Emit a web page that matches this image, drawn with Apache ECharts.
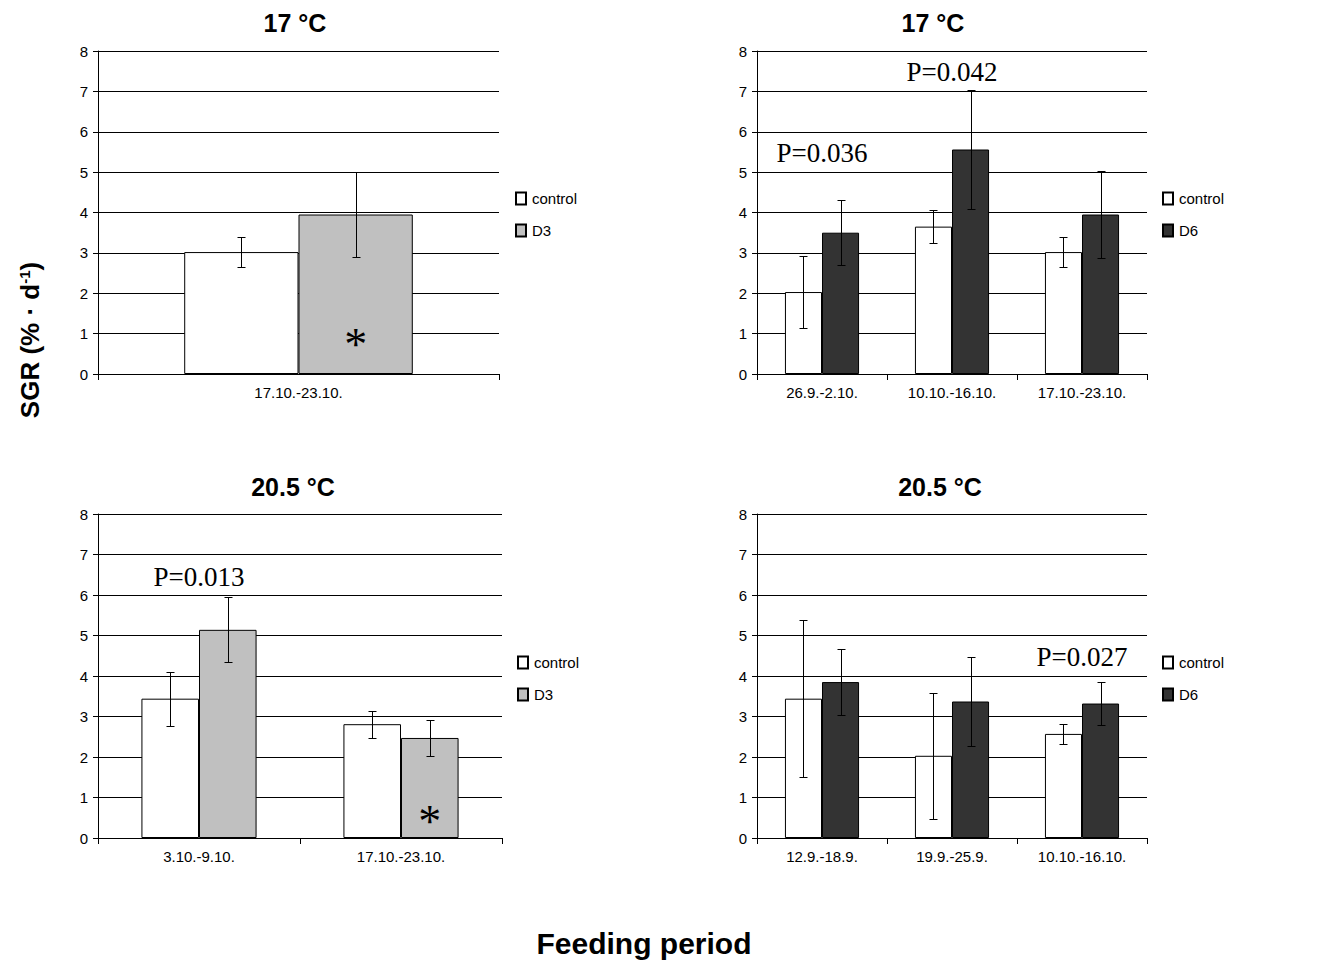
<!DOCTYPE html>
<html>
<head>
<meta charset="utf-8">
<script src="https://cdn.jsdelivr.net/npm/echarts@6/dist/echarts.min.js"></script>
<style>html,body{margin:0;padding:0;background:#fff}#c{width:1342px;height:964px}</style>
</head>
<body>
<div id="c"></div>
<script>
// ---- Data ----
const yTicksMax = 8;
// Panel A: 17 °C, D3
const catsA = ['17.10.-23.10.'];
const ctrlA = [3.02];
const ctrlErrA = [0.37];
const trtA = [3.95];
const trtErrA = [1.06];
// Panel B: 17 °C, D6
const catsB = ['26.9.-2.10.', '10.10.-16.10.', '17.10.-23.10.'];
const ctrlB = [2.03, 3.65, 3.02];
const ctrlErrB = [0.90, 0.40, 0.37];
const trtB = [3.50, 5.56, 3.95];
const trtErrB = [0.81, 1.48, 1.08];
// Panel C: 20.5 °C, D3
const catsC = ['3.10.-9.10.', '17.10.-23.10.'];
const ctrlC = [3.44, 2.81];
const ctrlErrC = [0.67, 0.33];
const trtC = [5.14, 2.47];
const trtErrC = [0.80, 0.44];
// Panel D: 20.5 °C, D6
const catsD = ['12.9.-18.9.', '19.9.-25.9.', '10.10.-16.10.'];
const ctrlD = [3.44, 2.03, 2.57];
const ctrlErrD = [1.94, 1.56, 0.24];
const trtD = [3.85, 3.37, 3.32];
const trtErrD = [0.81, 1.10, 0.53];
// Annotations (category index, value, text, bar slot: -1 centre, 1 treatment bar)
const noteTextA = ['*'];  const noteCatA = [0]; const noteValA = [0.72]; const noteSlotA = [1];
const noteTextB = ['P=0.036', 'P=0.042']; const noteCatB = [0, 1]; const noteValB = [5.48, 7.47]; const noteSlotB = [-1, -1];
const noteTextC = ['P=0.013', '*']; const noteCatC = [0, 1]; const noteValC = [6.45, 0.41]; const noteSlotC = [-1, 1];
const noteTextD = ['P=0.027']; const noteCatD = [2]; const noteValD = [4.47]; const noteSlotD = [-1];

const titles = ['17 °C', '17 °C', '20.5 °C', '20.5 °C'];
const trtNames = ['D3', 'D6', 'D3', 'D6'];

// ---- Styling / layout ----
const SANS = "'Liberation Sans', Arial, sans-serif";
const SERIF = "'Liberation Serif', 'Times New Roman', serif";
const GAP = 0.43;
const colors = { control: '#ffffff', D3: '#c0c0c0', D6: '#333333' };
const grids = [
  { left: 98, top: 51, width: 401, height: 323 },
  { left: 757, top: 51, width: 390, height: 323 },
  { left: 98, top: 514, width: 404, height: 324 },
  { left: 757, top: 514, width: 390, height: 324 }
];
const titlePos = [[295, 23], [933, 23], [293, 487], [940, 487]];
const legendPos = [[515, 191], [1162, 191], [517, 655], [1162, 655]];

const panels = [
  { cats: catsA, ctrl: ctrlA, ctrlErr: ctrlErrA, trt: trtA, trtErr: trtErrA, nt: noteTextA, nc: noteCatA, nv: noteValA, ns: noteSlotA },
  { cats: catsB, ctrl: ctrlB, ctrlErr: ctrlErrB, trt: trtB, trtErr: trtErrB, nt: noteTextB, nc: noteCatB, nv: noteValB, ns: noteSlotB },
  { cats: catsC, ctrl: ctrlC, ctrlErr: ctrlErrC, trt: trtC, trtErr: trtErrC, nt: noteTextC, nc: noteCatC, nv: noteValC, ns: noteSlotC },
  { cats: catsD, ctrl: ctrlD, ctrlErr: ctrlErrD, trt: trtD, trtErr: trtErrD, nt: noteTextD, nc: noteCatD, nv: noteValD, ns: noteSlotD }
];

function errRender(slot) {
  return function (params, api) {
    const cat = api.value(0), v = api.value(1), e = api.value(2);
    const band = api.size([1, 0])[0];
    const bw = band * (1 - GAP) / 2;
    const cx = Math.round(api.coord([cat, v])[0] + (slot === 0 ? -bw / 2 : bw / 2)) + 0.5;
    const yHi = Math.round(api.coord([cat, v + e])[1]) + 0.5;
    const yLo = Math.round(api.coord([cat, v - e])[1]) + 0.5;
    const cap = 4;
    const st = { stroke: '#000', lineWidth: 1 };
    return {
      type: 'group', children: [
        { type: 'line', shape: { x1: cx, y1: yHi, x2: cx, y2: yLo }, style: st },
        { type: 'line', shape: { x1: cx - cap, y1: yHi, x2: cx + cap, y2: yHi }, style: st },
        { type: 'line', shape: { x1: cx - cap, y1: yLo, x2: cx + cap, y2: yLo }, style: st }
      ]
    };
  };
}

function noteRender(texts, slots) {
  return function (params, api) {
    const i = params.dataIndex;
    const cat = api.value(0), v = api.value(1);
    const band = api.size([1, 0])[0];
    const bw = band * (1 - GAP) / 2;
    const slot = slots[i];
    const p = api.coord([cat, v]);
    const x = p[0] + (slot === -1 ? 0 : (slot === 0 ? -bw / 2 : bw / 2));
    const isStar = texts[i] === '*';
    return {
      type: 'text', x: x, y: p[1],
      style: {
        text: texts[i], fill: '#000',
        font: (isStar ? '46px ' : '27px ') + SERIF,
        textAlign: 'center', textVerticalAlign: 'middle'
      }
    };
  };
}

const option = {
  backgroundColor: '#fff',
  animation: false,
  grid: grids.map(g => Object.assign({ containLabel: false }, g)),
  xAxis: panels.map((p, k) => ({
    type: 'category', gridIndex: k, data: p.cats,
    axisLine: { lineStyle: { color: '#000', width: 1 } },
    axisTick: { show: true, length: 6, interval: 0, lineStyle: { color: '#000' } },
    axisLabel: { color: '#000', fontFamily: SANS, fontSize: 15, margin: 11, interval: 0 },
    splitLine: { show: false }
  })),
  yAxis: panels.map((p, k) => ({
    type: 'value', gridIndex: k, min: 0, max: yTicksMax, interval: 1,
    axisLine: { show: true, lineStyle: { color: '#000', width: 1 } },
    axisTick: { show: true, length: 5, lineStyle: { color: '#000' } },
    axisLabel: { color: '#000', fontFamily: SANS, fontSize: 15, margin: 10 },
    splitLine: { show: true, lineStyle: { color: '#000', width: 1 } }
  })),
  legend: panels.map((p, k) => ({
    orient: 'vertical', left: legendPos[k][0], top: legendPos[k][1],
    data: ['control', trtNames[k]], icon: 'rect', itemWidth: 10, itemHeight: 12, itemGap: 17,
    selectedMode: false, padding: 0,
    textStyle: { color: '#000', fontFamily: SANS, fontSize: 15, padding: [0, 0, 0, 1] }
  })),
  graphic: [
    ...titles.map((t, k) => ({
      type: 'text', x: titlePos[k][0], y: titlePos[k][1],
      style: { text: t, font: 'bold 25px ' + SANS, fill: '#000', textAlign: 'center', textVerticalAlign: 'middle' }
    })),
    {
      type: 'text', x: 644, y: 943,
      style: { text: 'Feeding period', font: 'bold 30px ' + SANS, fill: '#000', textAlign: 'center', textVerticalAlign: 'middle' }
    },
    {
      type: 'text', x: 30, y: 340, rotation: Math.PI / 2,
      style: {
        text: '{a|SGR (% · d}{s|-1}{a|)}', fill: '#000', textAlign: 'center', textVerticalAlign: 'middle',
        rich: {
          a: { fontFamily: SANS, fontWeight: 'bold', fontSize: 26, fill: '#000', color: '#000' },
          s: { fontFamily: SANS, fontWeight: 'bold', fontSize: 15, fill: '#000', color: '#000', verticalAlign: 'top' }
        }
      }
    }
  ],
  series: []
};

panels.forEach((p, k) => {
  const tn = trtNames[k];
  option.series.push({
    type: 'bar', name: 'control', xAxisIndex: k, yAxisIndex: k, data: p.ctrl,
    barGap: '0%', barCategoryGap: (GAP * 100) + '%',
    itemStyle: { color: colors.control, borderColor: '#000', borderWidth: 1 }, z: 2
  });
  option.series.push({
    type: 'bar', name: tn, xAxisIndex: k, yAxisIndex: k, data: p.trt,
    barGap: '0%', barCategoryGap: (GAP * 100) + '%',
    itemStyle: { color: colors[tn], borderColor: '#000', borderWidth: 1 }, z: 2
  });
  option.series.push({
    type: 'custom', name: 'err-control-' + k, xAxisIndex: k, yAxisIndex: k, z: 5,
    renderItem: errRender(0), encode: { x: 0, y: 1 },
    data: p.ctrl.map((v, i) => [i, v, p.ctrlErr[i]])
  });
  option.series.push({
    type: 'custom', name: 'err-trt-' + k, xAxisIndex: k, yAxisIndex: k, z: 5,
    renderItem: errRender(1), encode: { x: 0, y: 1 },
    data: p.trt.map((v, i) => [i, v, p.trtErr[i]])
  });
  option.series.push({
    type: 'custom', name: 'notes-' + k, xAxisIndex: k, yAxisIndex: k, z: 6,
    renderItem: noteRender(p.nt, p.ns), encode: { x: 0, y: 1 },
    data: p.nc.map((c, i) => [c, p.nv[i]])
  });
});

const chart = echarts.init(document.getElementById('c'), null, { renderer: 'svg' });
chart.setOption(option);
</script>
</body>
</html>
